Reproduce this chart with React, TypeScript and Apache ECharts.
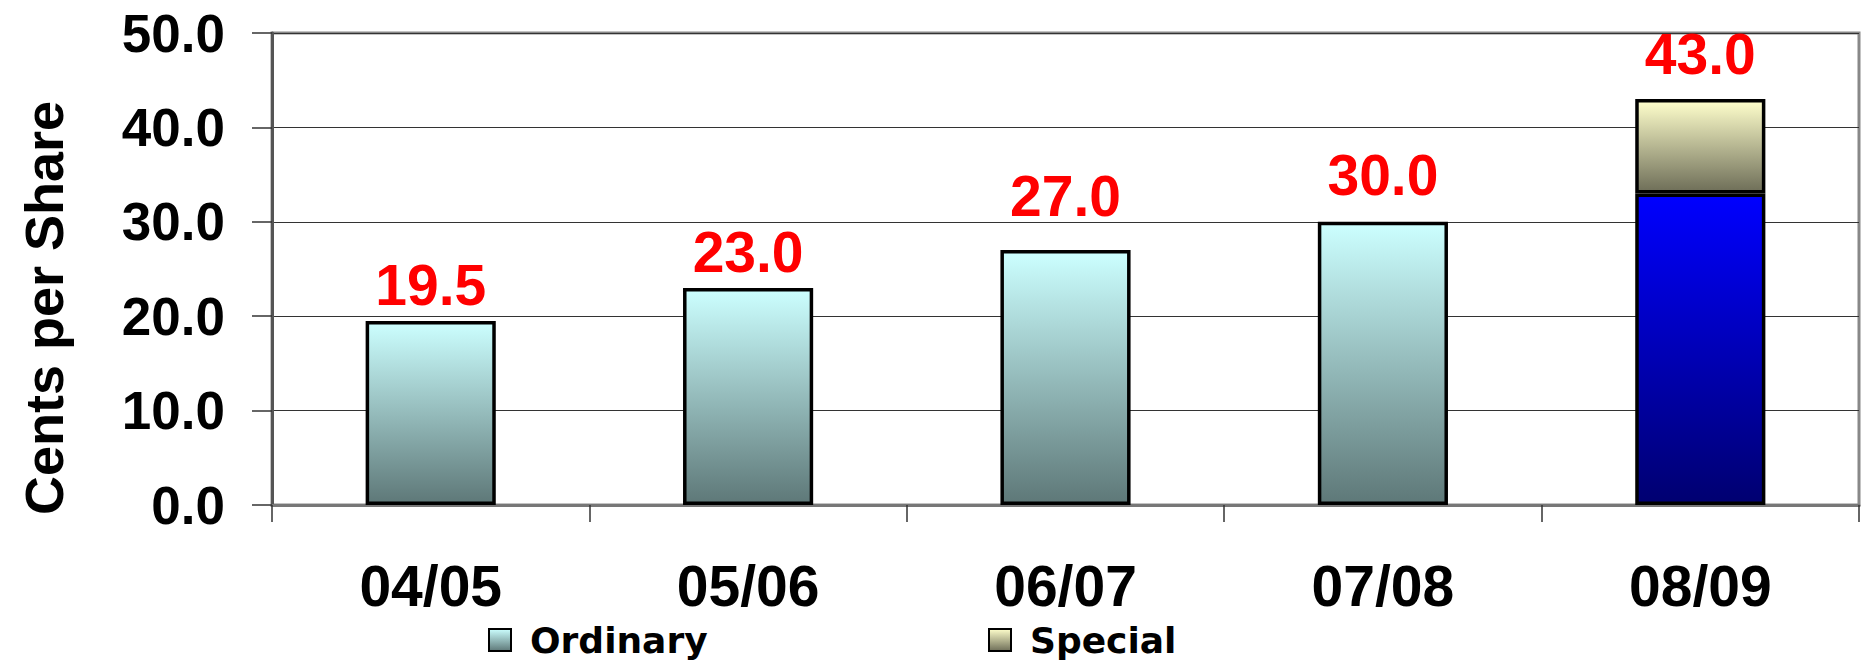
import React, { useEffect, useRef } from "react";
import * as echarts from "echarts";

const categories = ["04/05", "05/06", "06/07", "07/08", "08/09"];
const ordinaryValues = [19.5, 23.0, 27.0, 30.0, 33.0];
const specialValues: (number | null)[] = [null, null, null, null, 10.0];
const yTicks = { min: 0, max: 50, interval: 10 };
const seriesNames = ["Ordinary", "Special"];
const axisTitle = "Cents per Share";

const FONT = "'Liberation Sans', Arial, sans-serif";
const LEGEND_FONT = "'DejaVu Sans', sans-serif";
// gap (px) between each total label and its bar top, as placed in the original
const labelGaps = [7, 7, 26, 18, 17];

export default function App() {
  const ref = useRef<HTMLDivElement>(null);
  useEffect(() => {
    if (!ref.current) return;
    const chart = echarts.init(ref.current, null, { renderer: "svg" });
    const cyan = new echarts.graphic.LinearGradient(0, 0, 0, 1, [
      { offset: 0, color: "#CCFFFF" },
      { offset: 1, color: "#5E7878" },
    ]);
    const blue = new echarts.graphic.LinearGradient(0, 0, 0, 1, [
      { offset: 0, color: "#0000FF" },
      { offset: 1, color: "#000070" },
    ]);
    const cream = new echarts.graphic.LinearGradient(0, 0, 0, 1, [
      { offset: 0, color: "#FFFFCC" },
      { offset: 1, color: "#6E6E58" },
    ]);
    const labelStyle = {
      show: true,
      position: "top" as const,
      color: "#FF0000",
      fontFamily: FONT,
      fontWeight: "bold" as const,
      fontSize: 57,
    };
    const ordinaryData = ordinaryValues.map((v, i) => {
      const hasSpecial = specialValues[i] != null;
      return {
        value: v,
        itemStyle: hasSpecial ? { color: blue } : undefined,
        label: hasSpecial
          ? { show: false }
          : { ...labelStyle, distance: labelGaps[i], formatter: () => v.toFixed(1) },
      };
    });
    const specialData = specialValues.map((v, i) => {
      if (v == null) return "-";
      const total = ordinaryValues[i] + v;
      return {
        value: v,
        label: { ...labelStyle, distance: labelGaps[i], formatter: () => total.toFixed(1) },
      };
    });
    const legendCommon = {
      top: 617,
      itemWidth: 22,
      itemHeight: 22,
      icon: "rect",
      itemStyle: { borderColor: "#000", borderWidth: 2 },
      textStyle: {
        fontFamily: LEGEND_FONT,
        fontWeight: "bold" as const,
        fontSize: 36,
        color: "#000",
        padding: [0, 0, 0, 14],
      },
      selectedMode: false,
    };
    chart.setOption({
      animation: false,
      backgroundColor: "#FFFFFF",
      grid: {
        left: 272,
        right: 6,
        top: 33,
        bottom: 160,
        show: true,
        borderColor: "#888888",
        borderWidth: 3,
      },
      legend: [
        { ...legendCommon, left: 483, data: [seriesNames[0]] },
        { ...legendCommon, left: 983, data: [seriesNames[1]] },
      ],
      graphic: [
        {
          type: "text",
          x: 44,
          y: 308,
          rotation: Math.PI / 2,
          style: {
            text: axisTitle,
            fontFamily: FONT,
            fontWeight: "bold",
            fontSize: 54,
            fill: "#000",
            textAlign: "center",
            textVerticalAlign: "middle",
          },
        },
      ],
      xAxis: {
        type: "category",
        data: categories,
        axisLine: { lineStyle: { color: "#777777", width: 3 } },
        axisTick: { show: true, length: 17, lineStyle: { color: "#333", width: 1.5 } },
        axisLabel: {
          margin: 52,
          color: "#000",
          fontFamily: FONT,
          fontWeight: "bold",
          fontSize: 57,
        },
      },
      yAxis: {
        type: "value",
        min: yTicks.min,
        max: yTicks.max,
        interval: yTicks.interval,
        axisLine: { show: true, lineStyle: { color: "#555555", width: 3 } },
        axisTick: { show: true, length: 20, lineStyle: { color: "#333", width: 1.5 } },
        splitLine: { lineStyle: { color: "#333333", width: 1.2 } },
        axisLabel: {
          margin: 47,
          color: "#000",
          fontFamily: FONT,
          fontWeight: "bold",
          fontSize: 53,
          formatter: (v: number) => v.toFixed(1),
        },
      },
      series: [
        {
          name: seriesNames[0],
          type: "bar",
          stack: "total",
          barWidth: "41%",
          itemStyle: { color: cyan, borderColor: "#000", borderWidth: 3.5 },
          data: ordinaryData,
        },
        {
          name: seriesNames[1],
          type: "bar",
          stack: "total",
          barWidth: "41%",
          itemStyle: { color: cream, borderColor: "#000", borderWidth: 3.5 },
          data: specialData,
        },
      ],
    });
    return () => chart.dispose();
  }, []);
  return (
    <div
      ref={ref}
      style={{ position: "fixed", left: 0, top: 0, width: 1865, height: 665, background: "#fff" }}
    />
  );
}
